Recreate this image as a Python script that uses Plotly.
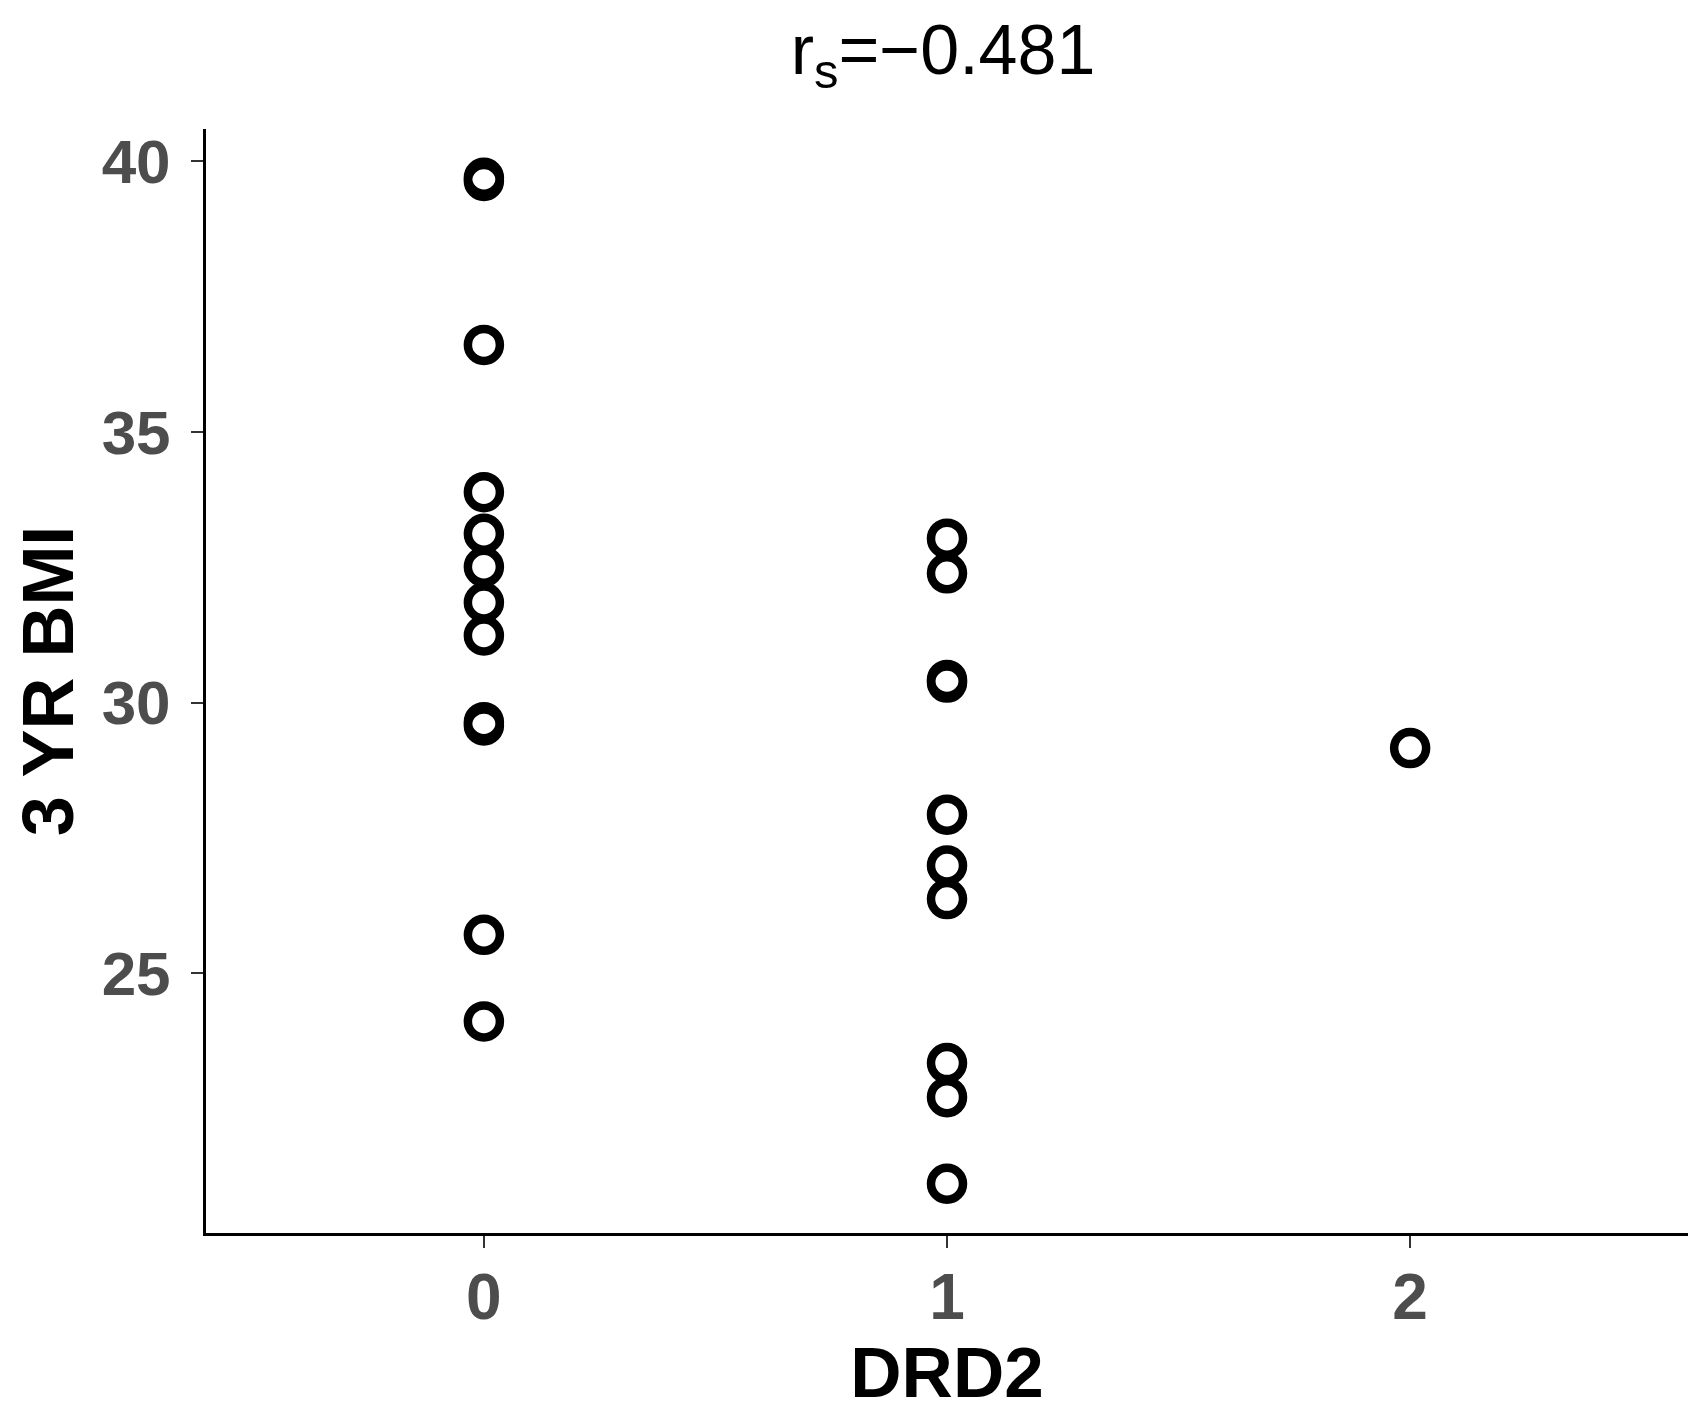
"""Scatter of 3-year BMI against DRD2 genotype."""
import plotly.graph_objs as go

# values
bmi_drd2_0 = [39.70, 39.64, 36.61, 33.89, 33.12, 32.51, 31.85, 31.24, 29.64, 29.58, 25.71, 24.11]
bmi_drd2_1 = [33.03, 32.39, 30.42, 30.37, 27.93, 26.99, 26.37, 23.34, 22.71, 21.11]
bmi_drd2_2 = [29.16]

x_ticks = [0, 1, 2]
y_ticks = [25, 30, 35, 40]

drd2 = [0] * len(bmi_drd2_0) + [1] * len(bmi_drd2_1) + [2] * len(bmi_drd2_2)
bmi = bmi_drd2_0 + bmi_drd2_1 + bmi_drd2_2

FONT = 'Liberation Sans, Arial, sans-serif'

fig = go.Figure()

fig.add_trace(go.Scatter(
    x=drd2,
    y=bmi,
    mode='markers',
    marker=dict(
        symbol='circle-open',
        size=32,
        color='black',
        line=dict(color='black', width=8.5)
    ),
    showlegend=False
))

fig.update_layout(
    width=1700,
    height=1415,
    plot_bgcolor='white',
    paper_bgcolor='white',
    margin=dict(l=198, r=20, t=121, b=190),
    title=dict(
        text='r<sub>s</sub>=\u22120.481',
        x=0.55,
        xanchor='center',
        y=0.971,
        yanchor='middle',
        font=dict(family=FONT, size=70, color='black')
    ),
)

fig.update_xaxes(
    range=[-0.6, 2.6],
    tickvals=x_ticks,
    ticktext=[str(v) for v in x_ticks],
    showgrid=False,
    zeroline=False,
    showline=True,
    linecolor='black',
    linewidth=3,
    ticks='outside',
    ticklen=12,
    tickwidth=2,
    tickcolor='#333333',
    ticklabelstandoff=-6,
    tickfont=dict(family=FONT, size=64, color='#4D4D4D', weight='bold'),
    title=dict(text='<b>DRD2</b>', standoff=10,
               font=dict(family=FONT, size=71, color='black'))
)

fig.update_yaxes(
    range=[20.2, 40.6],
    tickvals=y_ticks,
    showgrid=False,
    zeroline=False,
    showline=True,
    linecolor='black',
    linewidth=3,
    ticks='outside',
    ticklen=12,
    tickwidth=2,
    tickcolor='#333333',
    ticklabelstandoff=8,
    tickfont=dict(family=FONT, size=62, color='#4D4D4D', weight='bold'),
    title=dict(text='<b>3 YR BMI</b>', standoff=10,
               font=dict(family=FONT, size=72, color='black'))
)

fig.write_html("out.html")
